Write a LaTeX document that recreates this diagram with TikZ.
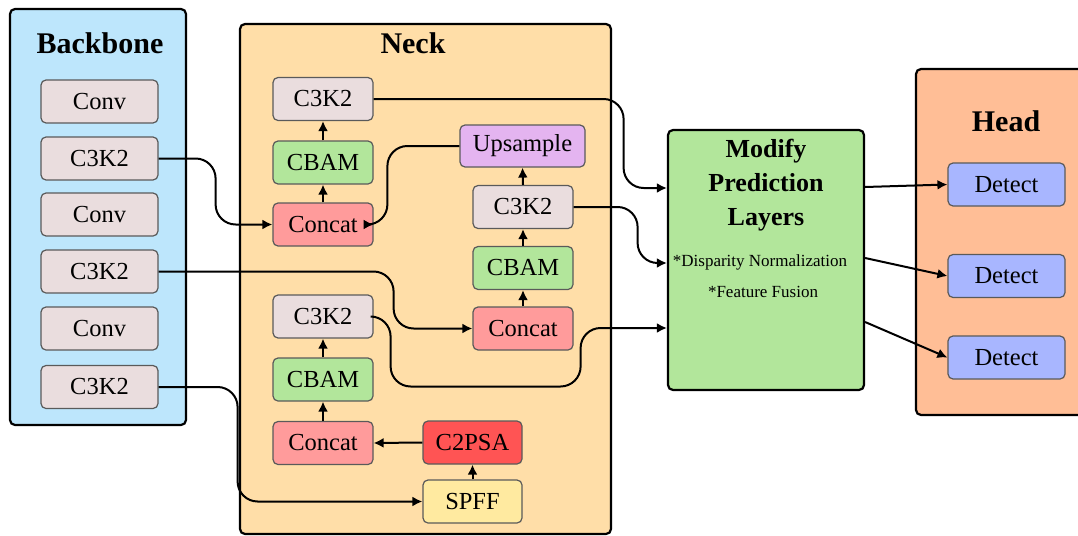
\documentclass[tikz,border=0pt]{standalone}
\usepackage{fontspec}
\setmainfont{Liberation Serif}
\usetikzlibrary{arrows.meta}
\definecolor{bbfill}{RGB}{189,230,252}
\definecolor{neckfill}{RGB}{255,222,168}
\definecolor{headfill}{RGB}{255,190,150}
\definecolor{greyfill}{RGB}{234,221,222}
\definecolor{greenfill}{RGB}{178,230,155}
\definecolor{concatfill}{RGB}{255,155,155}
\definecolor{psafill}{RGB}{255,84,84}
\definecolor{spffill}{RGB}{255,234,160}
\definecolor{upfill}{RGB}{228,180,240}
\definecolor{detfill}{RGB}{168,182,255}
\definecolor{boxline}{RGB}{90,90,90}
\tikzset{
  panel/.style={draw=black, line width=2.2pt, rounded corners=5pt},
  blk/.style={draw=boxline, line width=1.2pt, rounded corners=5pt, minimum height=43pt, inner sep=0pt, font=\fontsize{24.5}{28}\selectfont},
  ttl/.style={font=\fontsize{30}{34}\selectfont\bfseries},
  conn/.style={draw=black, line width=2pt, rounded corners=20pt, -{Latex[length=10pt,width=10pt]}},
  sconn/.style={draw=black, line width=2pt, -{Latex[length=10pt,width=10pt]}}
}
\begin{document}
\begin{tikzpicture}[x=1pt,y=-1pt]
\useasboundingbox (0,0) rectangle (1078,535);
\clip (0,0) rectangle (1078,535);
% panels
\draw[panel, fill=bbfill] (10,9) rectangle (186,425);
\draw[panel, fill=neckfill] (240,24) rectangle (611,534);
\draw[panel, fill=headfill] (916,69) rectangle (1100,415);
\node[ttl] (tbb) at (100,43) {Backbone};
\node[ttl] (tneck) at (413,43) {Neck};
\node[ttl] (thead) at (1006,121) {Head};
% backbone
\node[blk, fill=greyfill, minimum width=117pt] (b1) at (99.5,101.5) {Conv};
\node[blk, fill=greyfill, minimum width=117pt] (b2) at (99.5,158.5) {C3K2};
\node[blk, fill=greyfill, minimum width=117pt] (b3) at (99.5,214.5) {Conv};
\node[blk, fill=greyfill, minimum width=117pt] (b4) at (99.5,271.5) {C3K2};
\node[blk, fill=greyfill, minimum width=117pt] (b5) at (99.5,328.5) {Conv};
\node[blk, fill=greyfill, minimum width=117pt] (b6) at (99.5,387) {C3K2};
% neck left column
\node[blk, fill=greyfill, minimum width=100pt] (nk1) at (323,99) {C3K2};
\node[blk, fill=greenfill, minimum width=100pt] (ncb1) at (323,162.5) {CBAM};
\node[blk, fill=concatfill, minimum width=100pt] (nc1) at (323,224.5) {Concat};
\node[blk, fill=greyfill, minimum width=100pt] (nk3) at (323,316.5) {C3K2};
\node[blk, fill=greenfill, minimum width=100pt] (ncb3) at (323,379.5) {CBAM};
\node[blk, fill=concatfill, minimum width=100pt] (nc3) at (323,443) {Concat};
% neck right column
\node[blk, fill=upfill, minimum width=125pt, minimum height=42pt] (ups) at (522.5,146) {Upsample};
\node[blk, fill=greyfill, minimum width=100pt] (nk2) at (523,207) {C3K2};
\node[blk, fill=greenfill, minimum width=100pt] (ncb2) at (523,268) {CBAM};
\node[blk, fill=concatfill, minimum width=100pt] (nc2) at (523,328.5) {Concat};
\node[blk, fill=psafill, minimum width=99pt] (psa) at (472.5,442.5) {C2PSA};
\node[blk, fill=spffill, minimum width=99pt] (spff) at (472.5,501.5) {SPFF};
% modify block
\node[draw=black, line width=2.2pt, rounded corners=5pt, fill=greenfill, minimum width=196pt, minimum height=260pt, inner sep=0pt] (mod) at (766,260) {};
\node[align=center, font=\fontsize{26}{34}\selectfont\bfseries] (modt) at (766,185) {Modify\\Prediction\\Layers};
\node[font=\fontsize{17}{20}\selectfont] (dn) at (760,262) {*Disparity Normalization};
\node[font=\fontsize{17}{20}\selectfont] (ff) at (763,292) {*Feature Fusion};
% head
\node[blk, fill=detfill, minimum width=117pt] (d1) at (1006.5,184.5) {Detect};
\node[blk, fill=detfill, minimum width=117pt] (d2) at (1006.5,276) {Detect};
\node[blk, fill=detfill, minimum width=117pt] (d3) at (1006.5,357.5) {Detect};
% anchor coordinates on modify
\coordinate (m1) at ([yshift=72pt]mod.west);
\coordinate (m2) at ([yshift=-3pt]mod.west);
\coordinate (m3) at ([yshift=-68pt]mod.west);
\coordinate (o1) at ([yshift=73pt]mod.east);
\coordinate (o2) at ([yshift=2pt]mod.east);
\coordinate (o3) at ([yshift=-62pt]mod.east);
% vertical arrows
\draw[sconn] (nc1.north) -- (ncb1.south);
\draw[sconn] (ncb1.north) -- (nk1.south);
\draw[sconn] (nc3.north) -- (ncb3.south);
\draw[sconn] (ncb3.north) -- (nk3.south);
\draw[sconn] (nc2.north) -- (ncb2.south);
\draw[sconn] (ncb2.north) -- (nk2.south);
\draw[sconn] (nk2.north) -- (ups.south);
\draw[sconn] (spff.north) -- (psa.south);
\draw[sconn] (psa.west) -- (nc3.east);
% curved connectors
\draw[conn] (b2.east) -- ++(57,0) |- (nc1.west);
\draw[conn] (b4.east) -- ++(235,0) |- (nc2.west);
\draw[conn] (b6.east) -- ++(79,0) |- (spff.west);
\draw[conn] (ups.west) -- ++(-72,0) |- (nc1.east);
\draw[conn] (nk1.east) -- ++(250,0) |- (m1);
\draw[conn] (nk2.east) -- ++(64,0) |- (m2);
\draw[conn] (nk3.east) -- ++(17,0) -- ++(0,70) -- ++(190,0) |- (m3);
% outputs
\draw[sconn] (o1) -- (d1.west);
\draw[sconn] (o2) -- (d2.west);
\draw[sconn] (o3) -- (d3.west);
\end{tikzpicture}
\end{document}
